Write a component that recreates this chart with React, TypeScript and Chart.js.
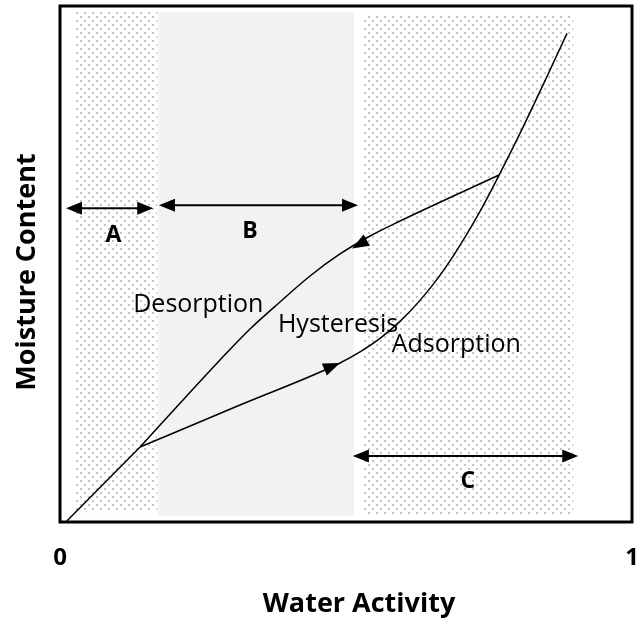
import React, { useEffect, useRef } from "react";
import { Chart, registerables } from "chart.js";

Chart.register(...registerables);

// ---- data (x: water activity 0..1, y: relative moisture content 0..1) ----
const initialX = [0.012, 0.14];
const initialY = [0.002, 0.1453];

const adsorptionX = [0.14, 0.3147, 0.4895, 0.5245, 0.5594, 0.5944, 0.6294, 0.6643, 0.6993, 0.7343, 0.7692, 0.8042, 0.8392, 0.8864];
const adsorptionY = [0.1453, 0.2267, 0.3081, 0.3295, 0.3558, 0.3888, 0.4295, 0.4779, 0.536, 0.6019, 0.6756, 0.7531, 0.8345, 0.9469];

const desorptionX = [0.14, 0.215, 0.2797, 0.3322, 0.3846, 0.4371, 0.4895, 0.542, 0.5944, 0.7675];
const desorptionY = [0.1453, 0.2364, 0.314, 0.374, 0.4264, 0.4767, 0.5194, 0.5543, 0.5833, 0.6725];

// shaded zones
const zoneNames = ["A", "B", "C"];
const zoneX0 = [0.028, 0.171, 0.53];
const zoneX1 = [0.17, 0.514, 0.897];
const zoneY0 = [0.019, 0.012, 0.012];
const zoneY1 = [0.99, 0.988, 0.983];
const zoneKinds = ["dots", "gray", "dots"];

// range arrows
const rangeLabels = ["A", "B", "C"];
const rangeX0 = [0.0105, 0.173, 0.512];
const rangeX1 = [0.163, 0.521, 0.906];
const rangeY = [0.608, 0.614, 0.128];
const rangeLabelX = [0.0935, 0.332, 0.713];
const rangeLabelY = [0.556, 0.564, 0.0795];

// direction arrows on the curves (tip, tail)
const dirTipX = [0.5105, 0.4895];
const dirTipY = [0.5301, 0.3081];
const dirTailX = [0.5944, 0.3147];
const dirTailY = [0.5833, 0.2267];

// curve labels (left, baseline)
const curveLabels = ["Desorption", "Hysteresis", "Adsorption"];
const curveLabelX = [0.128, 0.381, 0.58];
const curveLabelY = [0.407, 0.368, 0.329];

const xTickValues = [0, 1];
const xTickLabels = ["0", "1"];
const xTitle = "Water Activity";
const yTitle = "Moisture Content";

const pts = (xs: number[], ys: number[]) => xs.map((x, i) => ({ x, y: ys[i] }));

function makeDotPattern(ctx: CanvasRenderingContext2D) {
  const c = document.createElement("canvas");
  c.width = 8;
  c.height = 8;
  const g = c.getContext("2d")!;
  g.fillStyle = "#c4c4c4";
  g.fillRect(0, 0, 2, 2);
  g.fillRect(4, 4, 2, 2);
  return ctx.createPattern(c, "repeat");
}

function head(ctx: CanvasRenderingContext2D, tx: number, ty: number, ang: number, len: number, hw: number) {
  const bx = tx - Math.cos(ang) * len;
  const by = ty - Math.sin(ang) * len;
  const nx = -Math.sin(ang) * hw;
  const ny = Math.cos(ang) * hw;
  ctx.beginPath();
  ctx.moveTo(tx, ty);
  ctx.lineTo(bx + nx, by + ny);
  ctx.lineTo(bx - nx, by - ny);
  ctx.closePath();
  ctx.fill();
}

const zonesPlugin = {
  id: "zones",
  beforeDatasetsDraw(chart: any) {
    const { ctx, scales } = chart;
    const xs = scales.x;
    const ys = scales.y;
    const pattern = makeDotPattern(ctx);
    ctx.save();
    zoneNames.forEach((_, i) => {
      const l = xs.getPixelForValue(zoneX0[i]);
      const r = xs.getPixelForValue(zoneX1[i]);
      const t = ys.getPixelForValue(zoneY1[i]);
      const b = ys.getPixelForValue(zoneY0[i]);
      ctx.fillStyle = zoneKinds[i] === "gray" ? "#f2f2f2" : (pattern as any);
      ctx.fillRect(l, t, r - l, b - t);
    });
    ctx.restore();
  },
};

const overlayPlugin = {
  id: "overlay",
  afterDatasetsDraw(chart: any) {
    const { ctx, scales, chartArea } = chart;
    const xs = scales.x;
    const ys = scales.y;
    ctx.save();
    ctx.fillStyle = "#000";
    ctx.strokeStyle = "#000";

    // range arrows
    ctx.lineWidth = 2;
    rangeLabels.forEach((lab, i) => {
      const x0 = xs.getPixelForValue(rangeX0[i]);
      const x1 = xs.getPixelForValue(rangeX1[i]);
      const y = ys.getPixelForValue(rangeY[i]);
      ctx.beginPath();
      ctx.moveTo(x0 + 10, y);
      ctx.lineTo(x1 - 10, y);
      ctx.stroke();
      head(ctx, x0, y, Math.PI, 16, 6.5);
      head(ctx, x1, y, 0, 16, 6.5);
      ctx.font = "bold 23px 'Open Sans'";
      ctx.textAlign = "center";
      ctx.textBaseline = "middle";
      ctx.fillText(lab, xs.getPixelForValue(rangeLabelX[i]), ys.getPixelForValue(rangeLabelY[i]));
    });

    // direction arrows
    dirTipX.forEach((_, i) => {
      const tx = xs.getPixelForValue(dirTipX[i]);
      const ty = ys.getPixelForValue(dirTipY[i]);
      const fx = xs.getPixelForValue(dirTailX[i]);
      const fy = ys.getPixelForValue(dirTailY[i]);
      const ang = Math.atan2(ty - fy, tx - fx);
      head(ctx, tx, ty, ang, 17, 6.5);
    });

    // curve labels
    ctx.font = "25px 'Open Sans'";
    ctx.textAlign = "left";
    ctx.textBaseline = "alphabetic";
    curveLabels.forEach((lab, i) => {
      ctx.fillText(lab, xs.getPixelForValue(curveLabelX[i]), ys.getPixelForValue(curveLabelY[i]));
    });

    // frame
    ctx.lineWidth = 3;
    ctx.strokeRect(chartArea.left, chartArea.top, chartArea.right - chartArea.left, chartArea.bottom - chartArea.top);

    // axis tick labels
    ctx.font = "bold 24px 'Open Sans'";
    ctx.textAlign = "center";
    ctx.textBaseline = "middle";
    xTickValues.forEach((v, i) => {
      ctx.fillText(xTickLabels[i], xs.getPixelForValue(v), chartArea.bottom + 36);
    });

    // axis titles
    ctx.font = "bold 27px 'Open Sans'";
    ctx.fillText(xTitle, (chartArea.left + chartArea.right) / 2 + 13, chartArea.bottom + 82);
    ctx.translate(27, (chartArea.top + chartArea.bottom) / 2 + 8);
    ctx.rotate(-Math.PI / 2);
    ctx.fillText(yTitle, 0, 0);
    ctx.restore();
  },
};

export default function App() {
  const ref = useRef<HTMLCanvasElement | null>(null);
  useEffect(() => {
    if (!ref.current) return;
    const line = { showLine: true, borderColor: "#000", borderWidth: 1.5, pointRadius: 0, fill: false };
    const chart = new Chart(ref.current, {
      type: "scatter",
      data: {
        datasets: [
          { ...line, data: pts(initialX, initialY) },
          { ...line, data: pts(adsorptionX, adsorptionY), cubicInterpolationMode: "monotone" },
          { ...line, data: pts(desorptionX, desorptionY), cubicInterpolationMode: "monotone" },
        ] as any,
      },
      options: {
        animation: false,
        responsive: false,
        maintainAspectRatio: false,
        layout: { padding: { left: 60, top: 6, right: 5, bottom: 98 } },
        scales: {
          x: { type: "linear", min: 0, max: 1, display: false },
          y: { type: "linear", min: 0, max: 1, display: false },
        },
        plugins: { legend: { display: false }, tooltip: { enabled: false } },
      },
      plugins: [zonesPlugin, overlayPlugin],
    });
    return () => chart.destroy();
  }, []);
  return (
    <div style={{ position: "fixed", left: 0, top: 0, width: 637, height: 620, background: "#fff" }}>
      <canvas ref={ref} width={637} height={620} style={{ display: "block", width: 637, height: 620 }} />
    </div>
  );
}
